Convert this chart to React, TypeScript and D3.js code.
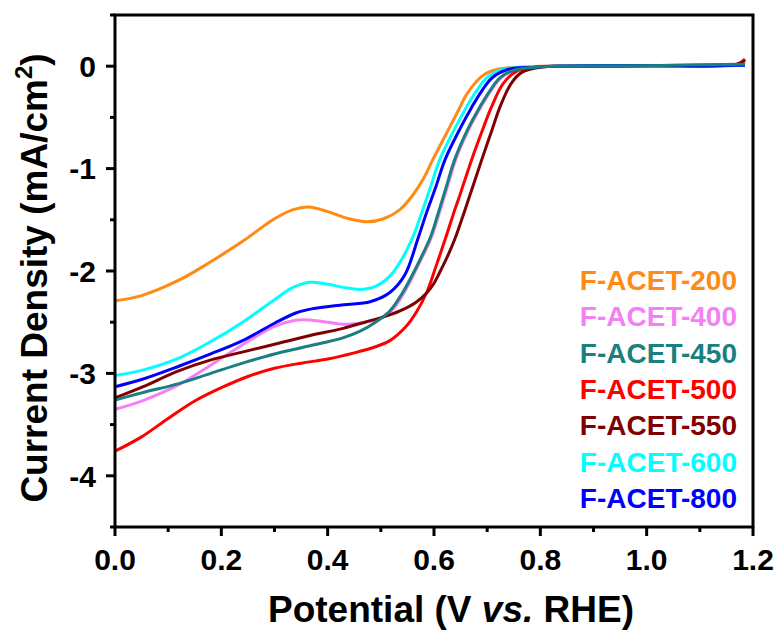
import React from "react";
import * as d3 from "d3";

type Pt = [number, number];

const ACET200: Pt[] = [[0,-2.29],[0.05,-2.24],[0.12,-2.09],[0.18,-1.91],[0.24,-1.71],[0.30,-1.49],[0.335,-1.40],[0.365,-1.375],[0.40,-1.42],[0.44,-1.49],[0.475,-1.52],[0.505,-1.49],[0.536,-1.40],[0.56,-1.26],[0.58,-1.10],[0.598,-0.91],[0.615,-0.74],[0.63,-0.59],[0.647,-0.42],[0.662,-0.27],[0.692,-0.09],[0.72,-0.03],[0.76,-0.01],[0.80,0.0],[1.0,0.005],[1.17,0.01],[1.185,0.03]];
const ACET400: Pt[] = [[0,-3.35],[0.05,-3.27],[0.12,-3.11],[0.18,-2.92],[0.24,-2.72],[0.30,-2.54],[0.34,-2.48],[0.37,-2.48],[0.40,-2.50],[0.43,-2.52],[0.47,-2.50],[0.50,-2.46],[0.525,-2.36],[0.545,-2.20],[0.567,-1.98],[0.596,-1.66],[0.609,-1.45],[0.625,-1.18],[0.641,-0.91],[0.667,-0.60],[0.688,-0.40],[0.707,-0.24],[0.727,-0.11],[0.752,-0.04],[0.79,-0.01],[0.84,0.0],[1.0,0.005],[1.185,0.02]];
const ACET450: Pt[] = [[0,-3.26],[0.05,-3.19],[0.12,-3.10],[0.18,-3.00],[0.24,-2.90],[0.30,-2.81],[0.367,-2.73],[0.43,-2.65],[0.46,-2.59],[0.49,-2.50],[0.517,-2.39],[0.54,-2.22],[0.565,-1.98],[0.594,-1.66],[0.607,-1.45],[0.623,-1.18],[0.639,-0.91],[0.665,-0.60],[0.686,-0.40],[0.705,-0.24],[0.725,-0.11],[0.75,-0.04],[0.79,-0.01],[0.84,0.0],[1.0,0.005],[1.185,0.02]];
const ACET500: Pt[] = [[0,-3.76],[0.05,-3.62],[0.10,-3.44],[0.15,-3.27],[0.20,-3.14],[0.25,-3.03],[0.30,-2.95],[0.35,-2.90],[0.40,-2.86],[0.45,-2.80],[0.49,-2.74],[0.517,-2.68],[0.546,-2.55],[0.567,-2.40],[0.587,-2.20],[0.604,-1.95],[0.621,-1.69],[0.636,-1.45],[0.646,-1.30],[0.671,-0.91],[0.69,-0.64],[0.708,-0.40],[0.73,-0.17],[0.755,-0.05],[0.79,-0.01],[0.84,0.0],[1.0,0.005],[1.17,0.02],[1.185,0.07]];
const ACET550: Pt[] = [[0,-3.24],[0.053,-3.13],[0.117,-2.98],[0.179,-2.87],[0.241,-2.79],[0.304,-2.71],[0.367,-2.63],[0.429,-2.56],[0.47,-2.50],[0.51,-2.44],[0.536,-2.39],[0.565,-2.31],[0.587,-2.21],[0.60,-2.12],[0.612,-2.00],[0.626,-1.85],[0.639,-1.69],[0.652,-1.50],[0.665,-1.30],[0.69,-0.91],[0.708,-0.64],[0.724,-0.40],[0.745,-0.17],[0.765,-0.06],[0.80,-0.01],[0.85,0.0],[1.0,0.005],[1.17,0.02],[1.185,0.06]];
const ACET600: Pt[] = [[0,-3.02],[0.05,-2.97],[0.12,-2.85],[0.18,-2.69],[0.24,-2.50],[0.30,-2.28],[0.335,-2.16],[0.367,-2.11],[0.40,-2.13],[0.43,-2.16],[0.46,-2.18],[0.49,-2.15],[0.517,-2.05],[0.54,-1.88],[0.561,-1.66],[0.577,-1.43],[0.594,-1.17],[0.611,-0.91],[0.64,-0.60],[0.661,-0.40],[0.68,-0.24],[0.70,-0.11],[0.73,-0.03],[0.78,-0.01],[0.82,0.0],[1.0,0.005],[1.185,0.01]];
const ACET800: Pt[] = [[0,-3.13],[0.05,-3.06],[0.12,-2.93],[0.18,-2.81],[0.24,-2.68],[0.30,-2.51],[0.34,-2.41],[0.37,-2.37],[0.43,-2.33],[0.48,-2.30],[0.517,-2.21],[0.545,-2.04],[0.57,-1.68],[0.586,-1.43],[0.604,-1.17],[0.621,-0.91],[0.65,-0.60],[0.671,-0.40],[0.69,-0.24],[0.71,-0.11],[0.74,-0.03],[0.79,-0.01],[0.83,0.0],[1.0,0.005],[1.185,0.01]];

const seriesNames = ["F-ACET-200", "F-ACET-400", "F-ACET-450", "F-ACET-500", "F-ACET-550", "F-ACET-600", "F-ACET-800"];
const seriesColors = ["#FF8A14", "#F57FF5", "#1A7F7F", "#FF0000", "#7F0000", "#00FFFF", "#0000FF"];
const seriesData = [ACET200, ACET400, ACET450, ACET500, ACET550, ACET600, ACET800];
const drawOrder = [0, 1, 3, 4, 5, 6, 2];

const xTicks = [0, 0.2, 0.4, 0.6, 0.8, 1.0, 1.2];
const xMinor = [0.1, 0.3, 0.5, 0.7, 0.9, 1.1];
const yTicks = [0, -1, -2, -3, -4];
const yMinor = [0.5, -0.5, -1.5, -2.5, -3.5, -4.5];

const FONT = "'Liberation Sans', Arial, sans-serif";

export default function App() {
  const left = 115, right = 753, top = 15, bottom = 527;
  const x = d3.scaleLinear().domain([0, 1.2]).range([left, right]);
  const y = d3.scaleLinear().domain([-4.5, 0.5]).range([bottom, top]);
  const line = d3.line<Pt>().x(d => x(d[0])).y(d => y(d[1])).curve(d3.curveCatmullRom.alpha(0.5));

  return (
    <svg width={779} height={630} style={{ position: "absolute", left: 0, top: 0, background: "#fff" }}>
      <defs>
        <clipPath id="plot"><rect x={left} y={top} width={right - left} height={bottom - top} /></clipPath>
      </defs>
      <g clipPath="url(#plot)">
        {drawOrder.map(i => (
          <path key={i} d={line(seriesData[i]) || ""} fill="none" stroke={seriesColors[i]} strokeWidth={3} strokeLinejoin="round" />
        ))}
      </g>
      <rect x={left} y={top} width={right - left} height={bottom - top} fill="none" stroke="#000" strokeWidth={3} />
      {xTicks.map(t => (
        <g key={"xt" + t}>
          <line x1={x(t)} x2={x(t)} y1={bottom} y2={bottom + 9} stroke="#000" strokeWidth={3} />
          <text x={x(t)} y={570} textAnchor="middle" fontFamily={FONT} fontWeight="bold" fontSize={30}>{t.toFixed(1)}</text>
        </g>
      ))}
      {xMinor.map(t => (
        <line key={"xm" + t} x1={x(t)} x2={x(t)} y1={bottom} y2={bottom + 5} stroke="#000" strokeWidth={3} />
      ))}
      {yTicks.map(t => (
        <g key={"yt" + t}>
          <line x1={left - 9} x2={left} y1={y(t)} y2={y(t)} stroke="#000" strokeWidth={3} />
          <text x={96} y={y(t)} dy="0.36em" textAnchor="end" fontFamily={FONT} fontWeight="bold" fontSize={30}>{t === 0 ? "0" : "-" + Math.abs(t)}</text>
        </g>
      ))}
      {yMinor.map(t => (
        <line key={"ym" + t} x1={left - 5} x2={left} y1={y(t)} y2={y(t)} stroke="#000" strokeWidth={3} />
      ))}
      <text x={268} y={622} fontFamily={FONT} fontWeight="bold" fontSize={37}>
        Potential (V <tspan fontStyle="italic">vs.</tspan> RHE)
      </text>
      <text transform="translate(47,278) rotate(-90)" textAnchor="middle" fontFamily={FONT} fontWeight="bold" fontSize={37}>
        Current Density (mA/cm<tspan fontSize={24} dy={-15}>2</tspan><tspan dy={15}>)</tspan>
      </text>
      {seriesNames.map((n, i) => (
        <text key={n} x={737} y={290 + i * 36.3} textAnchor="end" fontFamily={FONT} fontWeight="bold" fontSize={28} fill={seriesColors[i]}>{n}</text>
      ))}
    </svg>
  );
}
